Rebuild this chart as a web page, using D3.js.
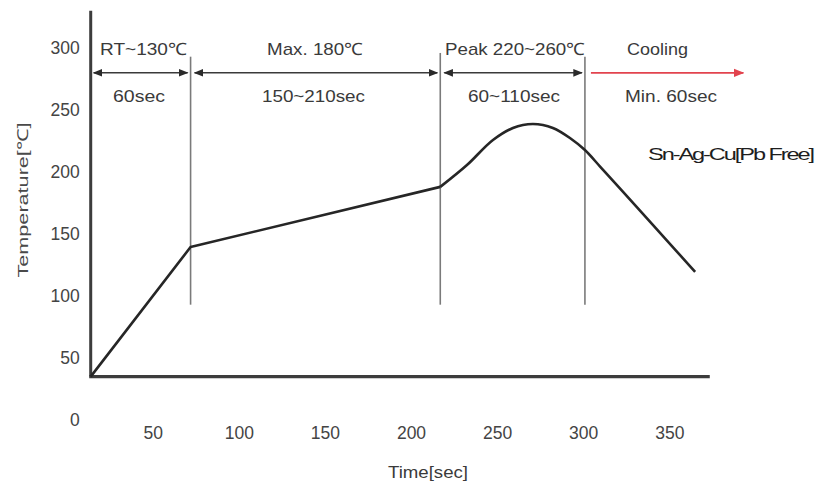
<!DOCTYPE html>
<html>
<head>
<meta charset="utf-8">
<script src="https://d3js.org/d3.v7.min.js"></script>
<style>
  body { margin: 0; background: #fff; }
  svg text { font-family: "Liberation Sans", Arial, sans-serif; fill: #3a3a3a; }
</style>
</head>
<body>
<svg id="chart" width="816" height="483"></svg>
<script>
// reflow profile, values
var yTicks = [0, 50, 100, 150, 200, 250, 300]
var xTicks = [50, 100, 150, 200, 250, 300, 350]

// straight ramp + soak
var rampTime = [14, 72, 217]
var rampTemp = [35, 139.5, 188]

// reflow peak and cooling
var peakTime = [217, 232.5, 247.6, 259.2, 270.8, 282.4, 292.3, 301, 309.8, 365]
var peakTemp = [188, 205.6, 225.8, 235.5, 238.7, 235.5, 227.4, 217.7, 204.4, 119.4]

// phase boundaries (sec)
var phaseBounds = [14, 72, 217, 301]
var phaseTitles = ["RT~130\u2103", "Max. 180\u2103", "Peak 220~260\u2103", "Cooling"]
var phaseTimes = ["60sec", "150~210sec", "60~110sec", "Min. 60sec"]

var svg = d3.select('#chart')

var x = d3.scaleLinear().domain([0, 350]).range([66.6, 669.3])
var y = d3.scaleLinear().domain([0, 300]).range([420, 48])

var axisT = 35     // x axis sits at room temperature
var xEnd = 373.5

var defs = svg.append('defs')
function marker(id, color, orient) {
  defs.append('marker')
    .attr('id', id)
    .attr('viewBox', '0 0 10 10')
    .attr('refX', 9).attr('refY', 5)
    .attr('markerWidth', 6).attr('markerHeight', 6)
    .attr('orient', orient)
    .append('path')
      .attr('d', 'M0,1 L10,5 L0,9 Z')
      .attr('fill', color)
}
marker('arr', '#2a2a2a', 'auto-start-reverse')
marker('arrRed', '#e2434e', 'auto')

// y tick labels
svg.append('g')
  .attr('transform', `translate(${x(14)},0)`)
  .call(d3.axisLeft(y).tickValues(yTicks).tickSize(0).tickPadding(11))
  .call(g => g.select('.domain').remove())
  .selectAll('text')
    .style('font-size', '17.5px')
    .style('fill', '#444')

// x tick labels
svg.append('g')
  .attr('transform', `translate(0,${y(axisT) + 50})`)
  .call(d3.axisBottom(x).tickValues(xTicks).tickSize(0).tickPadding(0))
  .call(g => g.select('.domain').remove())
  .selectAll('text')
    .style('font-size', '17.5px')
    .style('fill', '#444')

// phase divider lines
svg.selectAll('.divider')
  .data(phaseBounds.slice(1))
  .enter().append('line')
    .attr('class', 'divider')
    .attr('x1', d => x(d)).attr('x2', d => x(d))
    .attr('y1', (d, i) => y(i == 1 ? 296 : 293))
    .attr('y2', y(93))
    .attr('stroke', '#7a7a7a')
    .attr('stroke-width', 1.6)

// axis lines
svg.append('line')
  .attr('x1', x(14)).attr('x2', x(14))
  .attr('y1', y(axisT)).attr('y2', y(330))
  .attr('stroke', '#3c3c3c').attr('stroke-width', 3)
svg.append('line')
  .attr('x1', x(14) - 1.5).attr('x2', x(xEnd))
  .attr('y1', y(axisT)).attr('y2', y(axisT))
  .attr('stroke', '#3c3c3c').attr('stroke-width', 3.2)

// double arrows for the first three phases
var arrowT = 280
for (var i = 0; i < 3; i++) {
  svg.append('line')
    .attr('x1', x(phaseBounds[i]) + (i == 0 ? 3 : 4))
    .attr('x2', x(phaseBounds[i + 1]) - 3)
    .attr('y1', y(arrowT)).attr('y2', y(arrowT))
    .attr('stroke', '#3a3a3a').attr('stroke-width', 1.6)
    .attr('marker-start', 'url(#arr)')
    .attr('marker-end', 'url(#arr)')
}
// cooling arrow
svg.append('line')
  .attr('x1', x(phaseBounds[3]) + 6).attr('x2', x(393))
  .attr('y1', y(arrowT)).attr('y2', y(arrowT))
  .attr('stroke', '#e2434e').attr('stroke-width', 1.8)
  .attr('marker-end', 'url(#arrRed)')

// phase labels (text is stretched a little, like the source picture)
var titleX = [143.5, 315, 515, 657.5]
var titleW = [87, 96, 140, 61]
var timeX = [139, 313.5, 514, 671]
var timeW = [52, 103, 92, 92]
svg.selectAll('.ptitle')
  .data(phaseTitles)
  .enter().append('text')
    .attr('x', (d, i) => titleX[i])
    .attr('y', y(300) + 6.5)
    .attr('text-anchor', 'middle')
    .attr('textLength', (d, i) => titleW[i])
    .attr('lengthAdjust', 'spacingAndGlyphs')
    .style('font-size', '17px')
    .text(d => d)
svg.selectAll('.ptime')
  .data(phaseTimes)
  .enter().append('text')
    .attr('x', (d, i) => timeX[i])
    .attr('y', y(262) + 6.5)
    .attr('text-anchor', 'middle')
    .attr('textLength', (d, i) => timeW[i])
    .attr('lengthAdjust', 'spacingAndGlyphs')
    .style('font-size', '17px')
    .text(d => d)

// profile curve
svg.append('path')
  .datum(rampTime.map((t, i) => [t, rampTemp[i]]))
  .attr('d', d3.line().x(d => x(d[0])).y(d => y(d[1])))
  .attr('fill', 'none')
  .attr('stroke', '#262626')
  .attr('stroke-width', 2.6)
  .attr('stroke-linejoin', 'round')
svg.append('path')
  .datum(peakTime.map((t, i) => [t, peakTemp[i]]))
  .attr('d', d3.line().curve(d3.curveMonotoneX).x(d => x(d[0])).y(d => y(d[1])))
  .attr('fill', 'none')
  .attr('stroke', '#262626')
  .attr('stroke-width', 2.6)

// alloy note
svg.append('text')
  .attr('x', 648).attr('y', 160)
  .attr('textLength', 165)
  .attr('lengthAdjust', 'spacingAndGlyphs')
  .style('font-size', '17px')
  .style('letter-spacing', '-1.5px')
  .style('fill', '#1e1e1e')
  .text('Sn-Ag-Cu[Pb Free]')

// axis titles
svg.append('text')
  .attr('x', 428).attr('y', 478)
  .attr('text-anchor', 'middle')
  .attr('textLength', 80)
  .attr('lengthAdjust', 'spacingAndGlyphs')
  .style('font-size', '16px')
  .text('Time[sec]')
svg.append('text')
  .attr('transform', 'translate(28,200) rotate(-90)')
  .attr('text-anchor', 'middle')
  .attr('textLength', 155)
  .attr('lengthAdjust', 'spacingAndGlyphs')
  .style('font-size', '15px')
  .style('fill', '#4a4a4a')
  .text('Temperature[\u2103]')
</script>
</body>
</html>
